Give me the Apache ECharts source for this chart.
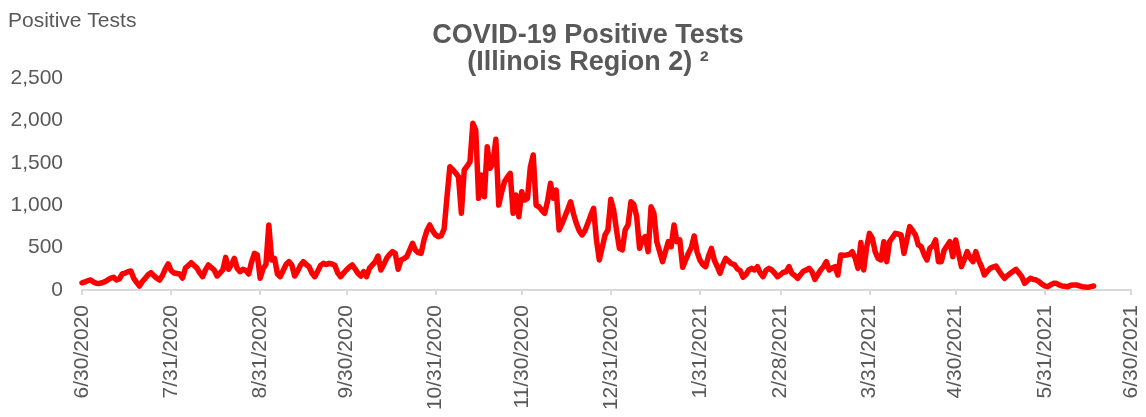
<!DOCTYPE html>
<html>
<head>
<meta charset="utf-8">
<script src="https://cdn.jsdelivr.net/npm/echarts@6/dist/echarts.min.js"></script>
<style>
html,body{margin:0;padding:0;background:#fff;}
#chart{width:1146px;height:417px;}
</style>
</head>
<body>
<div id="chart"></div>
<script>
// Daily positive tests starting 6/30/2020
const startDate = '2020-06-30';
const endDate = '2021-06-30';
const positiveTests = [
  85, 95, 110, 118, 95, 80, 78, 85, 98, 120,
  140, 150, 118, 130, 189, 200, 215, 224, 138, 90,
  47, 100, 138, 180, 204, 170, 140, 118, 170, 250,
  307, 230, 200, 195, 189, 141, 259, 290, 322, 290,
  259, 200, 157, 240, 295, 265, 236, 165, 200, 236,
  385, 244, 300, 373, 255, 216, 244, 230, 189, 330,
  432, 413, 138, 250, 300, 767, 354, 373, 189, 157,
  230, 300, 334, 295, 165, 220, 290, 334, 300, 275,
  200, 157, 220, 290, 314, 300, 314, 307, 290, 200,
  157, 200, 236, 270, 295, 250, 197, 165, 216, 157,
  255, 295, 330, 401, 236, 300, 373, 420, 452, 432,
  244, 354, 370, 393, 470, 550, 472, 440, 432, 590,
  700, 767, 700, 649, 629, 640, 720, 1100, 1454, 1420,
  1380, 1336, 904, 1415, 1460, 1513, 1966, 1887, 1081, 1356,
  1100, 1690, 1435, 1500, 1777, 1002, 1150, 1277, 1330, 1376,
  904, 1120, 864, 1159, 1061, 1081, 1450, 1592, 1000, 982,
  940, 904, 1050, 1258, 1081, 1179, 708, 780, 864, 950,
  1041, 900, 786, 700, 649, 700, 786, 880, 963, 590,
  354, 500, 649, 708, 1069, 943, 700, 491, 472, 708,
  767, 1041, 1010, 864, 491, 600, 629, 452, 982, 904,
  570, 450, 334, 450, 570, 511, 767, 570, 590, 267,
  350, 432, 500, 637, 450, 354, 300, 275, 400, 491,
  354, 280, 197, 300, 373, 340, 310, 300, 250, 230,
  150, 180, 236, 255, 236, 275, 200, 157, 230, 255,
  236, 200, 157, 180, 210, 216, 275, 197, 170, 138,
  180, 220, 236, 255, 216, 126, 180, 236, 275, 334,
  236, 260, 275, 177, 413, 410, 413, 420, 452, 380,
  255, 560, 236, 500, 668, 610, 450, 373, 354, 570,
  334, 570, 620, 668, 660, 649, 432, 590, 747, 700,
  649, 531, 511, 420, 354, 491, 520, 590, 334, 334,
  472, 520, 570, 393, 590, 432, 275, 360, 452, 380,
  334, 452, 350, 275, 177, 220, 255, 270, 283, 230,
  180, 138, 170, 197, 220, 244, 200, 157, 79, 110,
  138, 125, 118, 98, 70, 50, 39, 60, 79, 79,
  60, 47, 45, 39, 55, 59, 59, 50, 39, 35,
  31, 40, 47
];
const yTicks = [0, 500, 1000, 1500, 2000, 2500];

// build daily category labels M/D/YYYY
const categories = [];
const monthEnd = [];
(function(){
  const d = new Date(startDate + 'T12:00:00Z');
  const e = new Date(endDate + 'T12:00:00Z');
  while (d <= e) {
    categories.push((d.getUTCMonth()+1) + '/' + d.getUTCDate() + '/' + d.getUTCFullYear());
    const n = new Date(d.getTime() + 86400000);
    monthEnd.push(n.getUTCDate() === 1);
    d.setTime(d.getTime() + 86400000);
  }
})();

const FONT = '"Liberation Sans", Arial, sans-serif';
const GREY = '#595959';
const chart = echarts.init(document.getElementById('chart'));
chart.setOption({
  animation: false,
  backgroundColor: '#fff',
  title: {
    text: 'COVID-19 Positive Tests\n(Illinois Region 2) ²',
    left: 583,
    textAlign: 'center',
    top: 17,
    textStyle: {
      fontFamily: FONT, fontSize: 27, fontWeight: 'bold', color: GREY, lineHeight: 27
    }
  },
  graphic: [{
    type: 'text', left: 8, top: 11,
    style: { text: 'Positive Tests', font: '21px ' + FONT, fill: GREY }
  }],
  grid: { left: 82, right: 15, top: 78, bottom: 127, containLabel: false },
  xAxis: {
    type: 'category',
    data: categories,
    boundaryGap: false,
    axisLine: { lineStyle: { color: '#d9d9d9', width: 2 } },
    axisTick: { show: true, length: 5, lineStyle: { color: '#d9d9d9', width: 2 },
      interval: function(i){ return monthEnd[i]; } },
    axisLabel: {
      interval: function(i){ return monthEnd[i]; },
      rotate: 90, margin: 15, color: GREY, fontFamily: FONT, fontSize: 21,
      hideOverlap: false
    },
    splitLine: { show: false }
  },
  yAxis: {
    type: 'value', min: 0, max: 2500, interval: 500,
    axisLine: { show: false }, axisTick: { show: false },
    splitLine: { show: false },
    axisLabel: {
      margin: 19, color: GREY, fontFamily: FONT, fontSize: 21,
      formatter: function(v){ return String(v).replace(/\B(?=(\d{3})+(?!\d))/g, ','); }
    }
  },
  series: [{
    type: 'line',
    data: positiveTests,
    showSymbol: false,
    symbol: 'none',
    smooth: false,
    lineStyle: { color: '#ff0000', width: 5.5, cap: 'round', join: 'round' }
  }]
});
</script>
</body>
</html>
